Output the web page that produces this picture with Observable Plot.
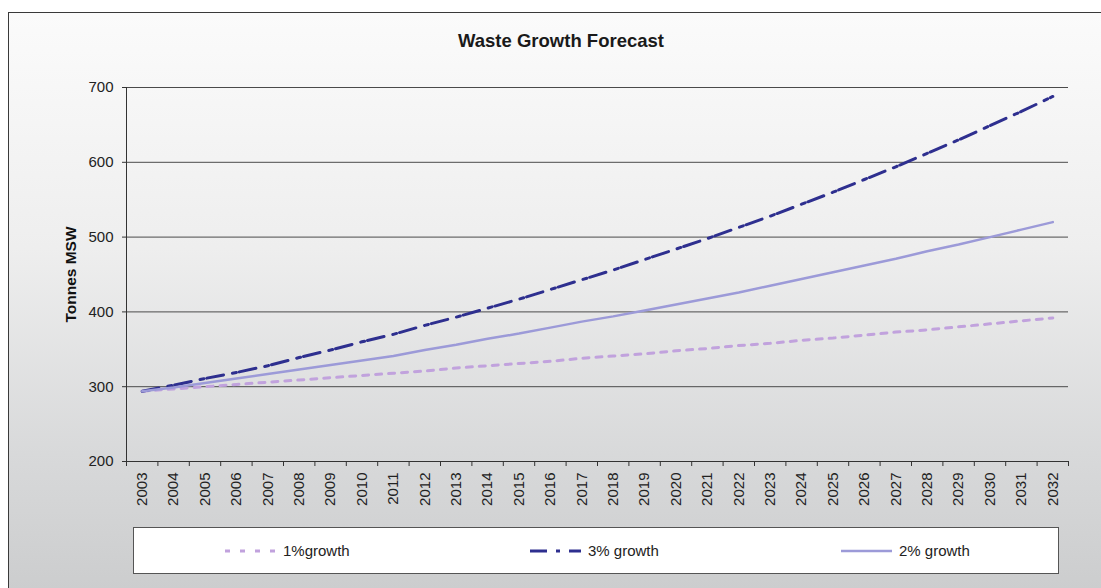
<!DOCTYPE html>
<html>
<head>
<meta charset="utf-8">
<script src="https://cdn.jsdelivr.net/npm/d3@7"></script>
<script src="https://cdn.jsdelivr.net/npm/@observablehq/plot@0.6"></script>
<style>
  html, body { margin: 0; padding: 0; width: 1101px; height: 588px; overflow: hidden; background: #fff; }
  body { font-family: "Liberation Sans", Arial, sans-serif; position: relative; }
  #frame {
    position: absolute; left: 8px; top: 12px; width: 1110px; height: 590px;
    border: 1px solid #3a3a3a; box-sizing: border-box;
    background: linear-gradient(to bottom, #fbfbfb 0%, #eeeeee 40%, #d8d9da 75%, #cbcccd 100%);
  }
  #title {
    position: absolute; left: 0; top: 30px; width: 1122px; text-align: center;
    font-weight: bold; font-size: 18.5px; color: #1a1a1a;
  }
  #chart { position: absolute; left: 0; top: 60px; }
  #legend {
    position: absolute; left: 133px; top: 527px; width: 926px; height: 47px;
    box-sizing: border-box; border: 1px solid #555; background: #fff;
  }
  .item { position: absolute; top: 0; height: 45px; display: flex; align-items: center; font-size: 15px; color: #222; }
  .item svg { margin-right: 7px; }
</style>
</head>
<body>
<div id="frame"></div>
<div id="title">Waste Growth Forecast</div>
<div id="chart"></div>
<div id="legend"></div>
<script>
// Forecast years and tonnes of municipal solid waste for each growth scenario
const years = d3.range(2003, 2033);
const growth1 = [294, 297, 300, 303, 306, 309, 312, 315, 318, 321, 325, 328, 331, 334, 338,
                 341, 344, 348, 351, 355, 358, 362, 365, 369, 373, 376, 380, 384, 388, 392];
const growth3 = [294, 302, 311, 319, 328, 339, 349, 360, 370, 382, 393, 405, 417, 430, 443,
                 456, 470, 484, 498, 513, 528, 544, 560, 577, 594, 612, 630, 649, 668, 688];
const growth2 = [294, 299, 305, 311, 317, 323, 329, 335, 341, 349, 356, 364, 371, 379, 387,
                 394, 402, 410, 418, 426, 435, 444, 453, 462, 471, 481, 490, 500, 510, 520];
const yTicks = [200, 300, 400, 500, 600, 700];

const series = [
  {name: "1%growth",   values: growth1, color: "#c1a2dd", width: 3,   dash: "6,7"},
  {name: "3% growth",  values: growth3, color: "#2e2f8f", width: 3,   dash: "17,9,4,3"},
  {name: "2% growth",  values: growth2, color: "#9c9ad8", width: 2.5, dash: null}
];

const rows = s => years.map((year, i) => ({year, value: s.values[i]}));
const bounds = d3.range(2002.5, 2033, 1);

const chart = Plot.plot({
  width: 1101,
  height: 470,
  marginLeft: 126,
  marginRight: 33,
  marginTop: 27,
  marginBottom: 69,
  style: {background: "transparent", fontFamily: "'Liberation Sans', Arial, sans-serif", fontSize: "15px", color: "#222"},
  x: {type: "linear", domain: [2002.5, 2032.5]},
  y: {domain: [200, 700]},
  marks: [
    Plot.ruleY(yTicks.slice(1), {stroke: "#4a4a4a", strokeWidth: 1}),
    Plot.ruleY([200], {stroke: "#333", strokeWidth: 1}),
    Plot.ruleX([2002.5], {stroke: "#333", strokeWidth: 1}),
    Plot.axisY(yTicks, {tickSize: 4, tickPadding: 9, label: null, stroke: "#333"}),
    Plot.axisX(bounds, {tickSize: 5, tickFormat: () => "", label: null, stroke: "#333"}),
    Plot.axisX(years, {tickSize: 0, tickPadding: 11, tickRotate: -90, tickFormat: d => String(d), label: null}),
    Plot.text(["Tonnes MSW"], {frameAnchor: "left", textAnchor: "middle", dx: -55, rotate: -90, fontWeight: "bold", fontSize: 15.5, fill: "#111"}),
    ...series.map(s => Plot.lineY(rows(s), {
      x: "year", y: "value", stroke: s.color, strokeWidth: s.width,
      strokeDasharray: s.dash ?? undefined
    }))
  ]
});
document.getElementById("chart").appendChild(chart);

// Legend entries: line sample followed by the series name
const legend = document.getElementById("legend");
const positions = [{left: 91, ord: 0}, {left: 396, ord: 1}, {left: 707, ord: 2}];
positions.forEach(p => {
  const s = series[p.ord];
  const item = document.createElement("div");
  item.className = "item";
  item.style.left = p.left + "px";
  const dash = s.dash ? `stroke-dasharray="${p.ord === 0 ? "5,10" : "17,9,4,9"}"` : "";
  item.innerHTML = `<svg width="51" height="6"><line x1="0" y1="3" x2="51" y2="3" stroke="${s.color}" stroke-width="${s.width}" ${dash}/></svg><span>${s.name}</span>`;
  legend.appendChild(item);
});
</script>
</body>
</html>
